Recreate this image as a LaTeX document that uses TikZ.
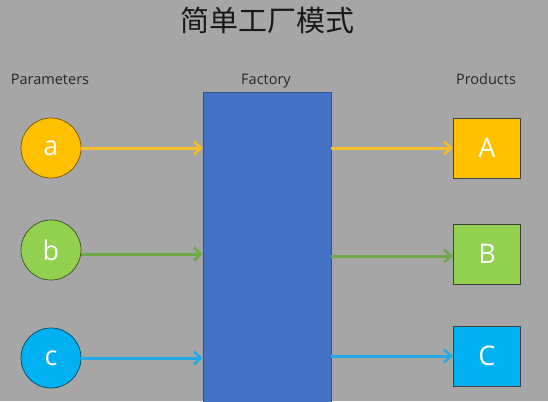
\documentclass[tikz,border=0pt]{standalone}
\usepackage{fontspec}
\setmainfont{Open Sans}
\newfontfamily\cjk{Noto Sans CJK SC}
\usetikzlibrary{arrows.meta}
\definecolor{bg}{HTML}{A6A6A6}
\definecolor{yel}{HTML}{FFC000}
\definecolor{grn}{HTML}{92D050}
\definecolor{blu}{HTML}{00B0F0}
\definecolor{yelA}{HTML}{F5C02A}
\definecolor{grnA}{HTML}{6DAA45}
\definecolor{bluA}{HTML}{23A9E6}
\definecolor{fac}{HTML}{4472C4}
\definecolor{facB}{HTML}{2F528F}
\tikzset{
  param/.style={circle, minimum size=60pt, inner sep=0pt, line width=0.7pt, text=white, font=\fontsize{27}{27}\selectfont},
  prod/.style={rectangle, minimum width=67.5pt, minimum height=60pt, inner sep=0pt, draw=black!75, line width=0.7pt, text=white, font=\fontsize{27}{27}\selectfont},
  lbl/.style={font=\fontsize{14.5}{14.5}\selectfont, text=black!85, inner sep=0pt},
  conn/.style={line width=3pt, -{Straight Barb[length=7pt,width=13pt,line width=2.5pt]}}
}
\begin{document}
\begin{tikzpicture}[x=1pt,y=-1pt]
\clip (0,0) rectangle (548,401);
\fill[bg] (0,0) rectangle (548,401);
\path[use as bounding box] (0,0) rectangle (548,401);
\node[inner sep=0pt, font=\cjk\fontsize{29}{29}\selectfont, text=black!90] (title) at (267,20) {简单工厂模式};
\node[lbl, anchor=base] (lp) at (50,85) {Parameters};
\node[lbl, anchor=base] (lf) at (266,85) {Factory};
\node[lbl, anchor=base] (lr) at (486,85) {Products};
\node[rectangle, fill=fac, draw=facB, line width=0.6pt, minimum width=128pt, minimum height=330pt, inner sep=0pt, anchor=north] (f) at (267,92) {};
\node[param, fill=yel, draw=yel!45!black] (a) at (51,148) {a};
\node[param, fill=grn, draw=grn!40!black] (b) at (51,250) {b};
\node[param, fill=blu, draw=blu!40!black] (c) at (51,358) {c};
\node[prod, fill=yel] (A) at (487,148) {A};
\node[prod, fill=grn] (B) at (487,254) {B};
\node[prod, fill=blu] (C) at (487,356) {C};
\draw[conn, yelA] (a.east) -- (a.east -| f.west);
\draw[conn, grnA] ([yshift=-4pt]b.east) -- ([yshift=-4pt]b.east -| f.west);
\draw[conn, bluA] (c.east) -- (c.east -| f.west);
\draw[conn, yelA] (f.east |- A.west) -- (A.west);
\draw[conn, grnA] ([yshift=-2pt]f.east |- B.west) -- ([yshift=-2pt]B.west);
\draw[conn, bluA] (f.east |- C.west) -- (C.west);
\end{tikzpicture}
\end{document}
